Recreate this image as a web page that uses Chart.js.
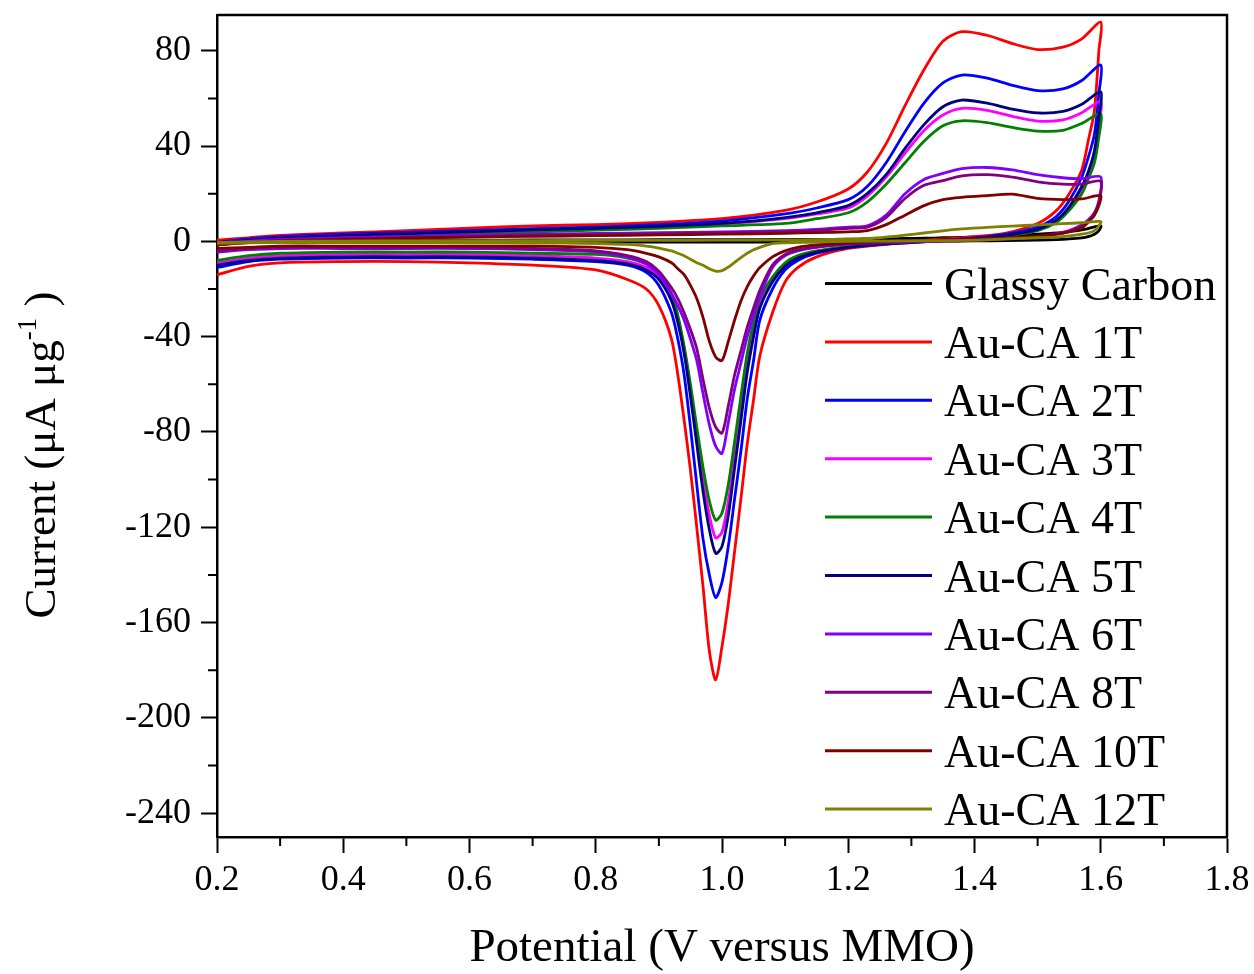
<!DOCTYPE html>
<html>
<head>
<meta charset="utf-8">
<script src="https://cdn.jsdelivr.net/npm/chart.js@4"></script>
<style>
  body { margin: 0; background: #fff; }
  #chart { display: block; }
</style>
</head>
<body>
<canvas id="chart" width="1254" height="974"></canvas>
<script>
// potential grid (V vs MMO), anodic sweep then cathodic sweep
const fwdV = [0.2, 0.25, 0.3, 0.4, 0.5, 0.6, 0.7, 0.8, 0.9, 1.0, 1.1, 1.15, 1.2, 1.23, 1.26, 1.29, 1.32, 1.35, 1.38, 1.42, 1.46, 1.5, 1.54, 1.57, 1.6];
const revV = [1.597, 1.59, 1.58, 1.57, 1.55, 1.53, 1.5, 1.45, 1.4, 1.35, 1.3, 1.25, 1.2, 1.15, 1.12, 1.1, 1.08, 1.06, 1.05, 1.04, 1.03, 1.02, 1.01, 1.0, 0.99, 0.98, 0.97, 0.96, 0.95, 0.94, 0.93, 0.92, 0.9, 0.88, 0.85, 0.8, 0.7, 0.6, 0.5, 0.4, 0.3, 0.25, 0.2];

const labels = ["Glassy Carbon", "Au-CA 1T", "Au-CA 2T", "Au-CA 3T", "Au-CA 4T", "Au-CA 5T", "Au-CA 6T", "Au-CA 8T", "Au-CA 10T", "Au-CA 12T"];
const colors = ["#000000", "#ff0000", "#0000ff", "#ff00ff", "#008000", "#000080", "#8000ff", "#800080", "#800000", "#808000"];

// current (uA ug-1) on the anodic sweep
const gcFwd  = [0, 0.2, 0.3, 0.4, 0.5, 0.5, 0.6, 0.6, 0.7, 0.7, 0.8, 0.8, 0.9, 1, 1.1, 1.2, 1.3, 1.5, 1.7, 2, 2.4, 3, 3.8, 4.8, 6.5];
const t1Fwd  = [0.5, 1.5, 2.5, 3.5, 4.5, 5.5, 6.5, 7, 8, 9.5, 13, 16.5, 22, 29, 41, 57, 72, 84, 88, 86.5, 83, 80.5, 81.5, 85, 92];
const t2Fwd  = [-0.5, 1, 2, 3, 3.8, 4.5, 5.3, 6, 7, 8.5, 11.5, 14, 17.5, 23, 33, 46, 58, 66.5, 69.8, 68.5, 65.5, 63.3, 64, 67.5, 74];
const t3Fwd  = [-1, 0.5, 1.5, 2.5, 3.2, 3.8, 4.5, 5.2, 6, 7.2, 9.5, 11.5, 14, 19, 27, 37, 46.5, 53, 55.8, 55, 52.5, 50.5, 51, 54, 58.6];
const t4Fwd  = [-1.5, 0, 1, 2, 2.8, 3.4, 4, 4.7, 5.5, 6.5, 7.5, 9.5, 12, 16.5, 24, 33, 42, 48.5, 50.6, 49.8, 47.8, 46.3, 46.6, 49.5, 53.6];
const t5Fwd  = [-1, 0.5, 1.5, 2.5, 3.3, 4, 4.8, 5.5, 6.3, 7.5, 10, 12, 15, 20, 28, 39, 49, 56.5, 59.3, 58, 55.5, 53.9, 54.5, 57.5, 62.7];
const t6Fwd  = [-1, 0, 0.8, 1.5, 2, 2.5, 3, 3.3, 3.6, 4, 4.5, 5, 6, 6.5, 11, 20, 26, 28.5, 30.5, 31, 30, 28, 26.7, 26.3, 27];
const t8Fwd  = [-1.5, -0.5, 0.3, 1, 1.5, 2, 2.5, 2.8, 3.1, 3.5, 4, 4.5, 5.5, 6, 10, 18, 23.5, 25.5, 27.5, 28, 27, 25, 24, 24, 25.2];
const t10Fwd = [-1.5, -0.5, 0.2, 0.8, 1.3, 1.8, 2.1, 2.4, 2.7, 3, 3.4, 3.7, 4, 4.5, 7, 11, 15, 17.5, 18.5, 19.2, 19.8, 18, 17.5, 17.8, 19.2];
const t12Fwd = [-0.5, -0.2, 0, 0.1, 0.2, 0.3, 0.3, 0.4, 0.4, 0.5, 0.6, 0.7, 0.9, 1.2, 1.8, 2.6, 3.5, 4.4, 5.2, 5.9, 6.4, 6.9, 7.4, 7.8, 8.3];

// current (uA ug-1) on the cathodic sweep
const gcRev  = [4.5, 3, 2, 1.5, 1, 0.7, 0.5, 0.3, 0.2, 0.1, 0, 0, -0.1, -0.2, -0.2, -0.3, -0.3, -0.3, -0.3, -0.3, -0.3, -0.3, -0.3, -0.3, -0.3, -0.3, -0.3, -0.3, -0.3, -0.3, -0.3, -0.3, -0.3, -0.3, -0.3, -0.3, -0.3, -0.3, -0.3, -0.3, -0.3, -0.4, -0.5];
const t1Rev  = [80, 55, 42, 30, 20, 13, 7.5, 3.5, 2, 1, 0, -1.5, -3, -6.5, -11, -17, -30, -48, -66.5, -85, -108, -130, -152, -170, -184, -172, -145, -120, -96, -75, -56, -41, -27, -20, -16, -12, -10, -9, -8.5, -8.5, -9, -10.5, -14];
const t2Rev  = [62, 45, 35, 27, 17, 10.5, 6, 3, 1.5, 0.5, -0.3, -1.3, -2.5, -5, -8, -12, -20, -33, -50, -66, -88, -108, -128, -143, -149.5, -140, -125, -102, -78, -56, -41, -30, -18.5, -13, -10, -8.5, -7.5, -7, -7, -7, -7.5, -8.5, -11];
const t3Rev  = [49, 36, 27, 21, 13.5, 8.5, 4.8, 2.3, 1.1, 0.3, -0.5, -1.3, -2.3, -4.2, -6.5, -10, -16, -26, -37, -51, -70, -90, -109, -122, -124.5, -115, -100, -81, -62, -45, -32, -23.5, -15, -11, -8.5, -7, -6, -5.5, -5.5, -5.5, -6, -7, -9];
const t4Rev  = [44, 33, 26, 20, 13, 8, 4.5, 2.2, 1, 0.3, -0.4, -1.2, -2.2, -4, -6, -9, -15, -24, -34, -47, -65, -84, -102, -114, -117, -109, -95, -78, -60, -44, -31, -22, -13.5, -9.5, -7, -5.5, -5, -4.5, -4.5, -4.5, -5, -6, -8];
const t5Rev  = [52, 38, 29, 23, 14.5, 9, 5, 2.5, 1.2, 0.3, -0.5, -1.3, -2.5, -4.5, -7, -10.5, -17, -28, -40, -55, -75, -95, -115, -128, -131, -121, -105, -85, -65, -47, -34, -25, -16, -12, -9.5, -8, -7, -6.5, -6.5, -6.5, -7, -8, -10];
const t6Rev  = [17, 12, 9, 7, 4.5, 3.2, 2, 1, 0.5, 0.2, -0.2, -0.6, -1.2, -2.5, -4, -6, -11, -23, -31, -40, -51, -62, -76, -89, -86, -77, -64, -50, -41, -33, -27, -22, -14, -9.5, -6.5, -4.5, -3.5, -3, -3, -3, -3, -3.5, -4.5];
const t8Rev  = [16, 11.5, 8.5, 6.5, 4.2, 3, 1.8, 0.9, 0.4, 0.1, -0.2, -0.6, -1.1, -2.3, -3.6, -5.5, -10, -20.5, -28, -36, -46, -56, -69, -80.5, -78, -70, -58, -45, -37, -30, -24, -19.5, -12.5, -8.5, -6, -4, -3, -2.5, -2.5, -2.5, -2.5, -3, -4];
const t10Rev = [15, 11, 8, 5.7, 4, 3, 2.2, 1.5, 1, 0.6, 0.3, -0.1, -0.5, -1.5, -2.5, -4, -6.5, -11, -14.5, -19, -25, -33, -42, -50, -48.5, -42, -32, -24, -18.5, -14, -11.5, -9, -6.5, -5, -3.5, -2.5, -2, -2, -2, -2, -2, -2.5, -3];
const t12Rev = [6.5, 4.5, 3.5, 3, 2.3, 1.8, 1.5, 1, 0.5, 0.3, 0.2, 0.1, 0, -0.2, -0.4, -0.6, -1, -2.5, -3.5, -5, -6.8, -8.8, -10.8, -12.3, -12.5, -11.5, -10, -9, -7.5, -6, -5, -4, -2.8, -2, -1.3, -0.9, -0.7, -0.6, -0.5, -0.5, -0.5, -0.6, -0.8];

const fwdSets = [gcFwd, t1Fwd, t2Fwd, t3Fwd, t4Fwd, t5Fwd, t6Fwd, t8Fwd, t10Fwd, t12Fwd];
const revSets = [gcRev, t1Rev, t2Rev, t3Rev, t4Rev, t5Rev, t6Rev, t8Rev, t10Rev, t12Rev];

const xTicks = [0.2, 0.4, 0.6, 0.8, 1.0, 1.2, 1.4, 1.6, 1.8];
const xMinor = [0.3, 0.5, 0.7, 0.9, 1.1, 1.3, 1.5, 1.7];
const yTicks = [-240, -200, -160, -120, -80, -40, 0, 40, 80];
const yMinor = [-220, -180, -140, -100, -60, -20, 20, 60];

const serif = '"Liberation Serif", "Times New Roman", serif';

function loop(fwd, rev) {
  const pts = fwdV.map((v, i) => ({ x: v, y: fwd[i] }));
  return pts.concat(revV.map((v, i) => ({ x: v, y: rev[i] })));
}

// later series are drawn over earlier ones, as in the original plot
const datasets = labels.map((name, i) => ({
  label: name,
  data: loop(fwdSets[i], revSets[i]),
  borderColor: colors[i],
  backgroundColor: colors[i],
  borderWidth: 2.8,
  pointRadius: 0,
  showLine: true,
  tension: 0.28,
  fill: false,
  order: labels.length - i,
}));

const decor = {
  id: "decor",
  afterDraw(chart) {
    const { ctx, chartArea: a, scales } = chart;
    const x = scales.x, y = scales.y;
    ctx.save();
    ctx.strokeStyle = "#000";
    ctx.lineWidth = 2.5;
    ctx.beginPath();
    ctx.moveTo(a.left, a.top);
    ctx.lineTo(a.right, a.top);
    ctx.lineTo(a.right, a.bottom);
    ctx.stroke();

    // minor ticks
    ctx.lineWidth = 2;
    ctx.beginPath();
    xMinor.forEach((v) => {
      const px = x.getPixelForValue(v);
      ctx.moveTo(px, a.bottom);
      ctx.lineTo(px, a.bottom + 9);
    });
    yMinor.forEach((v) => {
      const py = y.getPixelForValue(v);
      ctx.moveTo(a.left, py);
      ctx.lineTo(a.left - 9, py);
    });
    ctx.stroke();

    // legend inside the plot
    ctx.font = "46px " + serif;
    ctx.textAlign = "left";
    ctx.textBaseline = "alphabetic";
    chart.data.datasets.forEach((ds, i) => {
      const yy = a.top + 268.5 + 58.4 * i;
      ctx.strokeStyle = ds.borderColor;
      ctx.lineWidth = 3;
      ctx.beginPath();
      ctx.moveTo(a.left + 608, yy);
      ctx.lineTo(a.left + 715, yy);
      ctx.stroke();
      ctx.fillStyle = "#000";
      ctx.fillText(ds.label, a.left + 727, yy + 16);
    });

    // x axis title
    ctx.font = "47px " + serif;
    ctx.textAlign = "center";
    ctx.fillText("Potential (V versus MMO)", (a.left + a.right) / 2, 961);

    // y axis title with superscript
    ctx.translate(55, 455);
    ctx.rotate(-Math.PI / 2);
    const big = "45px " + serif, small = "27px " + serif;
    const p1 = "Current (\u03bcA \u03bcg", p2 = "-1", p3 = " )";
    ctx.font = big;
    const w1 = ctx.measureText(p1).width, w3 = ctx.measureText(p3).width;
    ctx.font = small;
    const w2 = ctx.measureText(p2).width;
    let tx = -(w1 + w2 + w3) / 2;
    ctx.textAlign = "left";
    ctx.font = big;
    ctx.fillText(p1, tx, 0);
    tx += w1;
    ctx.font = small;
    ctx.fillText(p2, tx, -19);
    tx += w2;
    ctx.font = big;
    ctx.fillText(p3, tx, 0);
    ctx.restore();
  },
};

new Chart(document.getElementById("chart"), {
  type: "scatter",
  data: { datasets },
  options: {
    responsive: false,
    animation: false,
    layout: { padding: { top: 15, right: 27, bottom: 0, left: 0 } },
    plugins: { legend: { display: false }, tooltip: { enabled: false } },
    scales: {
      x: {
        type: "linear",
        min: 0.2,
        max: 1.8,
        afterBuildTicks: (s) => { s.ticks = xTicks.map((v) => ({ value: v })); },
        afterFit: (s) => { s.height = 137; s.paddingLeft = 0; s.paddingRight = 0; },
        ticks: {
          callback: (v) => Number(v).toFixed(1),
          font: { family: serif, size: 36 },
          color: "#000",
          padding: 6,
          maxRotation: 0,
          autoSkip: false,
        },
        grid: { drawOnChartArea: false, drawTicks: true, tickLength: 16, tickWidth: 2, tickColor: "#000" },
        border: { display: true, color: "#000", width: 2.5 },
      },
      y: {
        type: "linear",
        min: -250,
        max: 95,
        afterBuildTicks: (s) => { s.ticks = yTicks.map((v) => ({ value: v })); },
        afterFit: (s) => { s.width = 217; s.paddingTop = 0; s.paddingBottom = 0; },
        ticks: {
          callback: (v) => String(v),
          font: { family: serif, size: 36 },
          color: "#000",
          padding: 10,
          autoSkip: false,
        },
        grid: { drawOnChartArea: false, drawTicks: true, tickLength: 16, tickWidth: 2, tickColor: "#000" },
        border: { display: true, color: "#000", width: 2.5 },
      },
    },
  },
  plugins: [decor],
});
</script>
</body>
</html>
